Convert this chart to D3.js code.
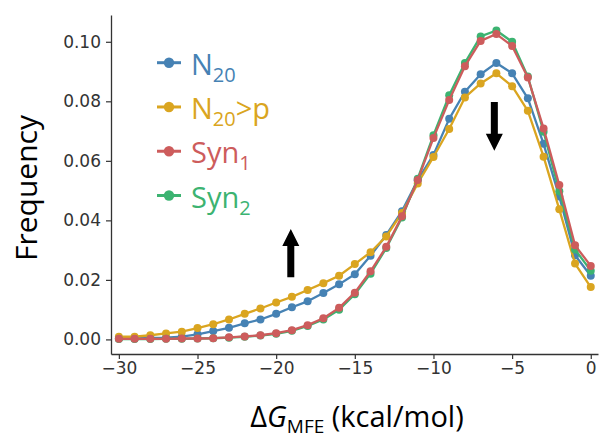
<!DOCTYPE html>
<html lang="en">
<head>
<meta charset="utf-8">
<script src="https://d3js.org/d3.v7.min.js"></script>
<style>
  body { margin: 0; background: #fff; }
  #chart { position: absolute; left: 0; top: 0; }
  .tick text { font-family: "DejaVu Sans", sans-serif; font-size: 17px; fill: #333; }
</style>
</head>
<body>
<div id="chart"></div>
<script>
// free energy bins (kcal/mol)
const bins = d3.range(-30, 1);

// frequency per bin
const n20 = [0.0003, 0.0003, 0.0005, 0.0006, 0.0009, 0.0017, 0.0028, 0.0039, 0.0054, 0.0067,
  0.0086, 0.0108, 0.0128, 0.0156, 0.0185, 0.0219, 0.0281, 0.0351, 0.0431, 0.0535,
  0.0620, 0.0741, 0.0832, 0.0891, 0.0929, 0.0894, 0.0810, 0.0657, 0.0480, 0.0283, 0.0214];
const n20p = [0.0009, 0.0009, 0.0014, 0.0020, 0.0026, 0.0038, 0.0051, 0.0067, 0.0086, 0.0104,
  0.0124, 0.0143, 0.0166, 0.0189, 0.0214, 0.0253, 0.0293, 0.0346, 0.0425, 0.0524,
  0.0613, 0.0707, 0.0813, 0.0860, 0.0894, 0.0851, 0.0768, 0.0614, 0.0437, 0.0255, 0.0176];
const syn1 = [0.0002, 0.0002, 0.0002, 0.0002, 0.0003, 0.0003, 0.0004, 0.0007, 0.0010, 0.0014,
  0.0021, 0.0031, 0.0048, 0.0071, 0.0106, 0.0157, 0.0229, 0.0311, 0.0414, 0.0536,
  0.0677, 0.0804, 0.0918, 0.1003, 0.1026, 0.0986, 0.0880, 0.0709, 0.0519, 0.0316, 0.0247];
const syn2 = [0.0001, 0.0001, 0.0001, 0.0002, 0.0002, 0.0003, 0.0004, 0.0006, 0.0009, 0.0013,
  0.0019, 0.0029, 0.0045, 0.0067, 0.0100, 0.0152, 0.0221, 0.0307, 0.0410, 0.0540,
  0.0686, 0.0820, 0.0929, 0.1018, 0.1038, 0.1000, 0.0883, 0.0698, 0.0498, 0.0302, 0.0231];

const xTicks = [-30, -25, -20, -15, -10, -5, 0];
const yTicks = [0, 0.02, 0.04, 0.06, 0.08, 0.10];

// legend entries: main text + subscript + trailing text
const legendNames = ["N20", "N20>p", "Syn1", "Syn2"];
const legendMain = ["N", "N", "Syn", "Syn"];
const legendSub = ["20", "20", "1", "2"];
const legendTail = ["", ">p", "", ""];
const colors = ["#4682b4", "#daa520", "#cd5c5c", "#3cb371"];
const seriesValues = [n20, n20p, syn1, syn2];

// arrows: [x, tail y, tip y] in data units
const arrows = [[-19.07, 0.0209, 0.0371], [-6.13, 0.0798, 0.0634]];

const width = 599, height = 438;

const svg = d3.select("#chart").append("svg")
    .attr("width", width)
    .attr("height", height)
    .attr("viewBox", [0, 0, width, height]);

const x = d3.scaleLinear().domain([-30.5, 0.46]).range([111, 598]);
const y = d3.scaleLinear().domain([-0.0049, 0.109]).range([354, 15]);

// axes
svg.append("g")
    .attr("transform", `translate(0,${y.range()[0]})`)
    .call(d3.axisBottom(x).tickValues(xTicks).tickSize(5).tickSizeOuter(0).tickPadding(3))
    .call(g => g.select(".domain").attr("stroke", "#333").attr("stroke-width", 1.3))
    .call(g => g.selectAll(".tick line").attr("stroke", "#333").attr("stroke-width", 1.2));

svg.append("g")
    .attr("transform", `translate(${x.range()[0]},0)`)
    .call(d3.axisLeft(y).tickValues(yTicks).tickFormat(d3.format(".2f")).tickSize(5).tickSizeOuter(0).tickPadding(5))
    .call(g => g.select(".domain").attr("stroke", "#333").attr("stroke-width", 1.3))
    .call(g => g.selectAll(".tick line").attr("stroke", "#333").attr("stroke-width", 1.2));

// series, drawn in the overlap order seen in the figure
const drawOrder = [0, 1, 3, 2];
const line = d3.line().x((d, i) => x(bins[i])).y(d => y(d));

drawOrder.forEach(k => {
  const g = svg.append("g");
  g.append("path")
      .attr("fill", "none")
      .attr("stroke", colors[k])
      .attr("stroke-width", 2.3)
      .attr("stroke-linejoin", "round")
      .attr("d", line(seriesValues[k]));
  g.selectAll("circle")
    .data(seriesValues[k])
    .join("circle")
      .attr("cx", (d, i) => x(bins[i]))
      .attr("cy", d => y(d))
      .attr("r", 4)
      .attr("fill", colors[k]);
});

// arrows
const shaftW = 7, headW = 17, headL = 17;
arrows.forEach(([ax, y0, y1]) => {
  const cx = x(ax), t = y(y0), p = y(y1);
  const dir = p < t ? 1 : -1;
  const hb = p + dir * headL;
  const path = d3.path();
  path.moveTo(cx - shaftW / 2, t);
  path.lineTo(cx - shaftW / 2, hb);
  path.lineTo(cx - headW / 2, hb);
  path.lineTo(cx, p);
  path.lineTo(cx + headW / 2, hb);
  path.lineTo(cx + shaftW / 2, hb);
  path.lineTo(cx + shaftW / 2, t);
  path.closePath();
  svg.append("path").attr("d", path.toString()).attr("fill", "#000");
});

// legend
const legendY = d3.scalePoint().domain(legendNames).range([62.7, 195.5]);
const legend = svg.append("g");
legendNames.forEach((name, i) => {
  const ly = legendY(name);
  legend.append("line")
      .attr("x1", 157).attr("x2", 181)
      .attr("y1", ly).attr("y2", ly)
      .attr("stroke", colors[i]).attr("stroke-width", 3);
  legend.append("circle")
      .attr("cx", 169).attr("cy", ly).attr("r", 5.2)
      .attr("fill", colors[i]);
  const t = legend.append("text")
      .attr("x", 191).attr("y", ly + 12)
      .attr("fill", colors[i])
      .style("font-family", "'Open Sans', sans-serif")
      .style("font-size", "29px");
  t.append("tspan").text(legendMain[i]);
  t.append("tspan").attr("dy", 7).style("font-size", "20px").text(legendSub[i]);
  if (legendTail[i]) t.append("tspan").attr("dy", -7).text(legendTail[i]);
});

// axis titles
svg.append("text")
    .attr("transform", "translate(37,188) rotate(-90)")
    .attr("text-anchor", "middle")
    .style("font-family", "'Open Sans', sans-serif")
    .style("font-size", "30px")
    .attr("fill", "#000")
    .text("Frequency");

const xl = svg.append("text")
    .attr("x", 357).attr("y", 427)
    .attr("text-anchor", "middle")
    .style("font-family", "'Open Sans', sans-serif")
    .style("font-size", "29px")
    .attr("fill", "#000");
xl.append("tspan").text("Δ");
xl.append("tspan").style("font-style", "italic").text("G");
xl.append("tspan").attr("dy", 6).style("font-size", "19px").text("MFE");
xl.append("tspan").attr("dy", -6).text(" (kcal/mol)");
</script>
</body>
</html>
